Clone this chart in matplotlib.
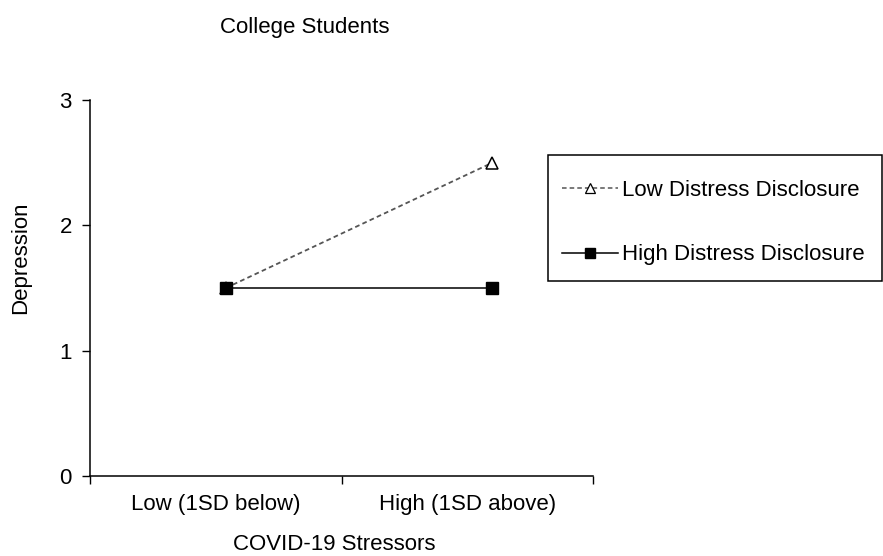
import matplotlib
matplotlib.use("Agg")
import matplotlib.pyplot as plt
from matplotlib.lines import Line2D
from matplotlib.patches import Rectangle

plt.rcParams['font.family'] = ['Liberation Sans', 'DejaVu Sans']

# simple slopes: depression at low / high COVID-19 stressors
levels = ["Low (1SD below)", "High (1SD above)"]
x_pts = [0.54, 1.60]
low_disclosure = [1.5, 2.5]
high_disclosure = [1.5, 1.5]
series_names = ["Low Distress Disclosure", "High Distress Disclosure"]

W, H = 883, 556
fig = plt.figure(figsize=(W / 100, H / 100), dpi=100)
ax = fig.add_axes([90 / W, 1 - 476 / H, (593 - 90) / W, (476 - 100) / H])

fs = 16

ax.plot(x_pts, low_disclosure, color="#555555", lw=1.3, ls=(0, (2.6, 1.8)),
        marker="^", ms=9, mfc="white", mec="black", mew=1.1, zorder=3)
ax.plot(x_pts, high_disclosure, color="black", lw=1.1,
        marker="s", ms=9, mfc="black", mec="black", zorder=4)

ax.set_xlim(0, 2)
ax.set_ylim(0, 3)
ax.set_yticks([0, 1, 2, 3])
ax.set_xticks([0, 1, 2])
ax.set_xticklabels([])
ax.set_xticks([0.5, 1.5], minor=True)
ax.set_xticklabels(levels, minor=True, fontsize=fs)
ax.tick_params(axis="x", which="minor", length=0, pad=13)
ax.tick_params(axis="x", which="major", length=6, width=1, direction="out")
ax.tick_params(axis="y", length=6, width=1, direction="out", pad=7, labelsize=fs)
for s in ["top", "right"]:
    ax.spines[s].set_visible(False)
for s in ["left", "bottom"]:
    ax.spines[s].set_linewidth(1.1)

fig.text(305 / W, 1 - 27 / H, "College Students", ha="center", va="center", fontsize=fs)
fig.text(334 / W, 1 - 545 / H, "COVID-19 Stressors", ha="center", va="center", fontsize=fs)
fig.text(21 / W, 1 - 258 / H, "Depression", ha="center", va="center",
         rotation=90, fontsize=fs)

# legend inside a plain box
handles = [
    Line2D([], [], color="#555555", lw=1.1, ls=(0, (3, 2)), marker="^", ms=7,
           mfc="white", mec="black", mew=0.9),
    Line2D([], [], color="black", lw=1.1, marker="s", ms=7, mfc="black", mec="black"),
]
fig.legend(handles, series_names, loc="upper left",
           bbox_to_anchor=(562 / W, 1 - 180 / H), frameon=False, fontsize=fs,
           handlelength=2.5, handletextpad=0.22, labelspacing=1.95, borderpad=0,
           borderaxespad=0)
fig.patches.append(Rectangle((548 / W, 1 - 281 / H), (882 - 548) / W, (281 - 155) / H,
                             transform=fig.transFigure, fill=False,
                             edgecolor="black", lw=1.1))

fig.savefig("out.png", dpi=100)
